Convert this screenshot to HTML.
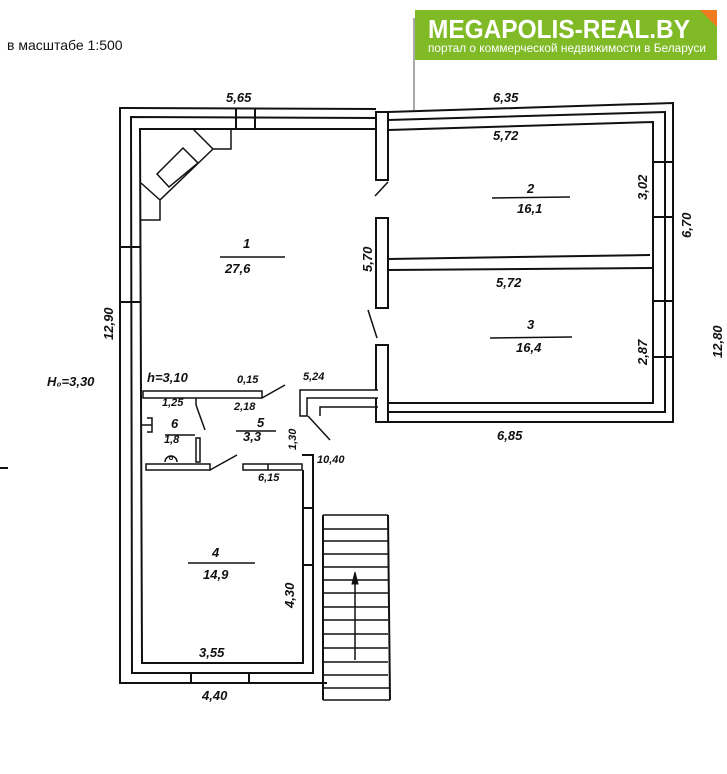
<!DOCTYPE html>
<html><head><meta charset="utf-8"><style>
html,body{margin:0;padding:0;background:#fff;}
svg{display:block;}
.t{font-family:"Liberation Sans",sans-serif;font-style:italic;font-weight:bold;fill:#111;}
</style></head><body>
<svg width="727" height="774" viewBox="0 0 727 774" xmlns="http://www.w3.org/2000/svg">
<rect width="727" height="774" fill="#fff"/>
<text x="7" y="50" font-family="Liberation Sans, sans-serif" font-size="14" fill="#111">в масштабе 1:500</text>
<!-- logo -->
<line x1="414" y1="18" x2="414" y2="110" stroke="#555" stroke-width="1"/>
<rect x="415" y="10" width="302" height="50" fill="#80ba27"/>
<polygon points="700,10 717,10 717,27" fill="#f07a1e"/>
<text x="428" y="38" font-family="Liberation Sans, sans-serif" font-weight="bold" font-size="26" fill="#fff" textLength="262" lengthAdjust="spacingAndGlyphs">MEGAPOLIS-REAL.BY</text>
<text x="428" y="52" font-family="Liberation Sans, sans-serif" font-size="11.5" fill="#fff" textLength="278" lengthAdjust="spacingAndGlyphs">портал о коммерческой недвижимости в Беларуси</text>

<g stroke="#111" stroke-width="2" fill="none">
<!-- left block outer lines -->
<polyline points="376,109 120,108 120,683 327,683"/>
<polyline points="376,118 131,117 132,673 313,673 313,455 302,455"/>
<polyline points="376,129 140,129 142,663 303,663 303,470"/>
<line x1="236" y1="108" x2="236" y2="129"/>
<line x1="255" y1="108" x2="255" y2="129"/>
<line x1="120" y1="247" x2="140" y2="247"/>
<line x1="120" y1="302" x2="140" y2="302"/>
<line x1="191" y1="673" x2="191" y2="683"/>
<line x1="249" y1="673" x2="249" y2="683"/>
<line x1="303" y1="508" x2="313" y2="508"/>
<line x1="303" y1="565" x2="313" y2="565"/>
<!-- right block -->
<polyline points="388,112 673,103 673,422 388,422"/>
<polyline points="388,120 665,112 665,412 388,412"/>
<polyline points="388,130 653,122 653,403 388,403"/>
<line x1="653" y1="162" x2="673" y2="162"/>
<line x1="653" y1="217" x2="673" y2="217"/>
<line x1="653" y1="301" x2="673" y2="301"/>
<line x1="653" y1="357" x2="673" y2="357"/>
<!-- partition 2/3 -->
<line x1="388" y1="259" x2="650" y2="255"/>
<line x1="388" y1="270" x2="652" y2="268"/>
<!-- middle partition segments -->
<rect x="376" y="112" width="12" height="68" fill="#fff"/>
<rect x="376" y="218" width="12" height="90" fill="#fff"/>
<rect x="376" y="345" width="12" height="77" fill="#fff"/>
<line x1="375" y1="196" x2="388" y2="182" stroke-width="1.5"/>
<line x1="368" y1="310" x2="377" y2="338" stroke-width="1.5"/>
<!-- stove -->
<polyline points="193,129 213,149 231,149 231,129" stroke-width="1.5"/>
<polyline points="213,149 160,200 160,220 141,220" stroke-width="1.5"/>
<line x1="141" y1="183" x2="160" y2="200" stroke-width="1.5"/>
<polygon points="183,148 198,163 169,187 157,174" stroke-width="1.5"/>
<!-- rooms 5/6 -->
<rect x="143" y="391" width="119" height="7" fill="#fff" stroke-width="1.5"/>
<line x1="262" y1="398" x2="285" y2="385" stroke-width="1.5"/>
<rect x="146" y="464" width="64" height="6" fill="#fff" stroke-width="1.5"/>
<line x1="210" y1="470" x2="237" y2="455" stroke-width="1.5"/>
<rect x="243" y="464" width="59" height="6" fill="#fff" stroke-width="1.5"/>
<line x1="268" y1="464" x2="268" y2="470" stroke-width="1.5"/>
<line x1="196" y1="398" x2="196" y2="405" stroke-width="1.5"/>
<line x1="196" y1="405" x2="205" y2="430" stroke-width="1.5"/>
<rect x="196" y="438" width="4" height="24" fill="#fff" stroke-width="1.5"/>
<polyline points="147,418 152,418 152,432 147,432" stroke-width="1.5"/>
<line x1="141" y1="425" x2="152" y2="425" stroke-width="1.5"/>
<path d="M165,462 a6,6 0 0 1 12,0" stroke-width="1.5"/>
<circle cx="171" cy="458" r="1.5" stroke-width="1"/>
<polyline points="378,390 300,390 300,416 307,416 307,398 378,398" fill="#fff" stroke-width="1.5"/>
<polyline points="320,416 320,407 378,407" stroke-width="1.5"/>
<line x1="308" y1="416" x2="330" y2="440" stroke-width="1.5"/>
<!-- stairs -->
<line x1="323" y1="515" x2="323" y2="700"/>
<line x1="388" y1="515" x2="390" y2="700"/>
<g stroke-width="1.5">
<line x1="323" y1="515" x2="388" y2="515"/><line x1="323" y1="529" x2="388" y2="529"/>
<line x1="323" y1="541" x2="388" y2="541"/><line x1="323" y1="554" x2="388" y2="554"/>
<line x1="323" y1="567" x2="388" y2="567"/><line x1="323" y1="580" x2="388" y2="580"/>
<line x1="323" y1="593" x2="388" y2="593"/><line x1="323" y1="607" x2="388" y2="607"/>
<line x1="323" y1="620" x2="388" y2="620"/><line x1="323" y1="634" x2="388" y2="634"/>
<line x1="323" y1="648" x2="388" y2="648"/><line x1="323" y1="662" x2="388" y2="662"/>
<line x1="323" y1="675" x2="388" y2="675"/><line x1="323" y1="688" x2="390" y2="688"/>
<line x1="323" y1="700" x2="390" y2="700"/>
<line x1="355" y1="660" x2="355" y2="575"/>
</g>
<polygon points="355,572 352,584 358,584" fill="#111" stroke-width="1"/>
<!-- label bars -->
<line x1="220" y1="257" x2="285" y2="257" stroke-width="1.5"/>
<line x1="492" y1="198" x2="570" y2="197" stroke-width="1.5"/>
<line x1="490" y1="338" x2="572" y2="337" stroke-width="1.5"/>
<line x1="188" y1="563" x2="255" y2="563" stroke-width="1.5"/>
<line x1="236" y1="431" x2="276" y2="431" stroke-width="1.5"/>
<line x1="165" y1="435" x2="195" y2="435" stroke-width="1.5"/>
<line x1="0" y1="468" x2="8" y2="468" stroke-width="2"/>
</g>

<g class="t" font-size="13">
<text x="226" y="102">5,65</text>
<text x="493" y="102">6,35</text>
<text x="493" y="140">5,72</text>
<text x="496" y="287">5,72</text>
<text x="243" y="248">1</text>
<text x="225" y="273">27,6</text>
<text x="527" y="193">2</text>
<text x="517" y="213">16,1</text>
<text x="527" y="329">3</text>
<text x="516" y="352">16,4</text>
<text x="212" y="557">4</text>
<text x="203" y="579">14,9</text>
<text x="497" y="440">6,85</text>
<text x="199" y="657">3,55</text>
<text x="202" y="700">4,40</text>
<text x="47" y="386">Н₀=3,30</text>
<text x="147" y="382">h=3,10</text>
<text x="237" y="383" font-size="11">0,15</text>
<text x="303" y="380" font-size="11">5,24</text>
<text x="162" y="406" font-size="11">1,25</text>
<text x="234" y="410" font-size="11">2,18</text>
<text x="257" y="427">5</text>
<text x="243" y="441">3,3</text>
<text x="171" y="428">6</text>
<text x="164" y="443" font-size="11">1,8</text>
<text x="317" y="463" font-size="11">10,40</text>
<text x="258" y="481" font-size="11">6,15</text>
<text transform="translate(372,272) rotate(-90)">5,70</text>
<text transform="translate(691,238) rotate(-90)">6,70</text>
<text transform="translate(722,358) rotate(-90)">12,80</text>
<text transform="translate(113,340) rotate(-90)">12,90</text>
<text transform="translate(647,200) rotate(-90)">3,02</text>
<text transform="translate(647,365) rotate(-90)">2,87</text>
<text transform="translate(294,608) rotate(-90)">4,30</text>
<text transform="translate(296,450) rotate(-90)" font-size="11">1,30</text>
</g>
</svg>
</body></html>
